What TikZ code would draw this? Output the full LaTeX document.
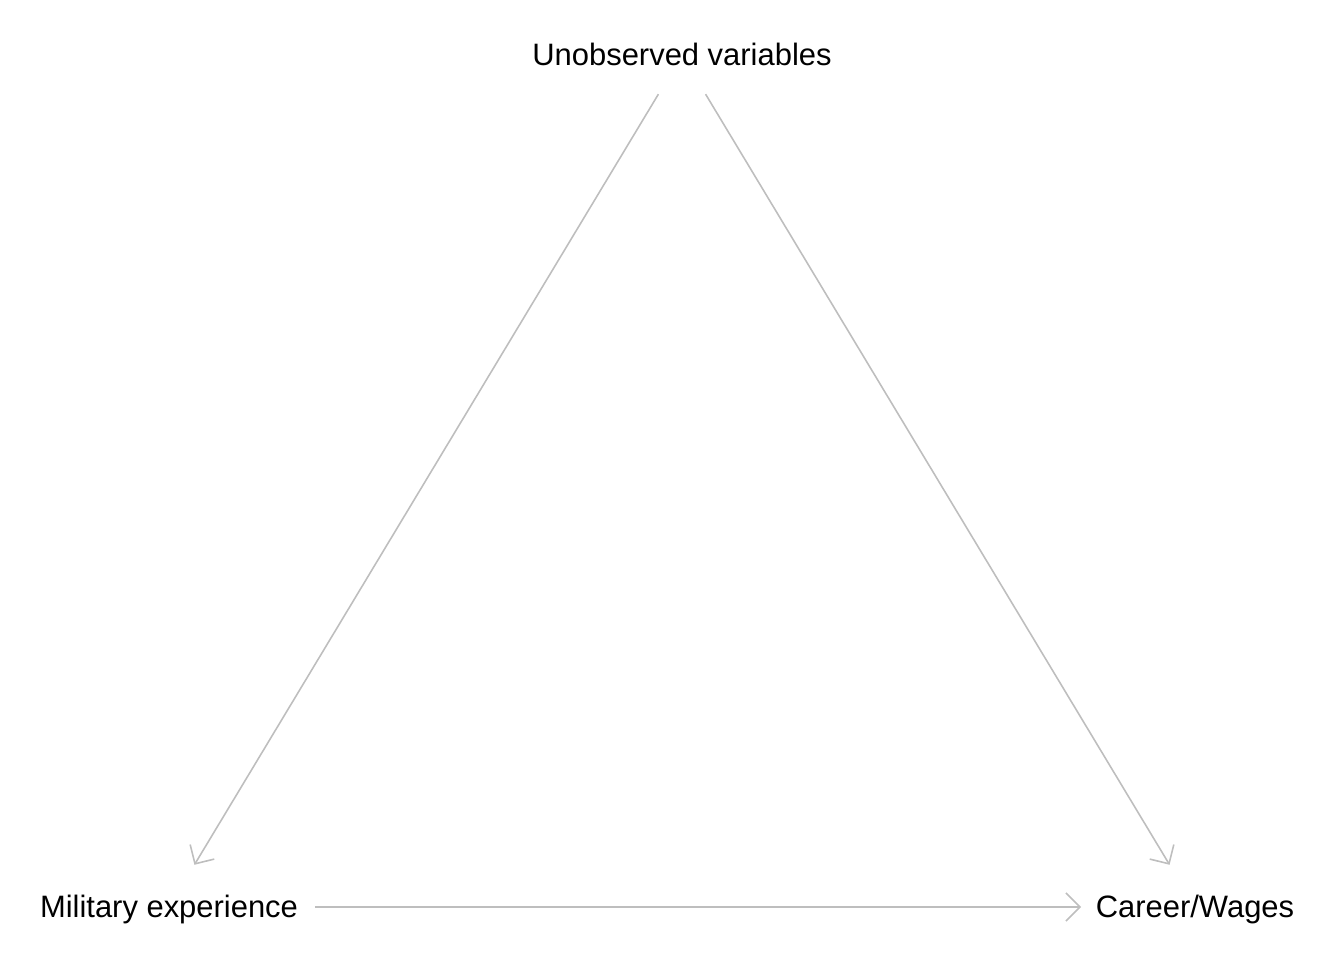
\documentclass[tikz,border=0pt]{standalone}
\usepackage{fontspec}
\setmainfont{Liberation Sans}
\usetikzlibrary{arrows.meta}
\definecolor{edgeGray}{HTML}{BEBEBE}
\begin{document}
\begin{tikzpicture}
[x=0.01cm,y=0.01cm,%
  lineDecorate/.style={-{Straight Barb[length=4pt,width=8pt]},draw=edgeGray,line width=0.45pt},%
  nodeDecorate/.style={inner sep=0pt,font=\fontsize{8.8pt}{10pt}\selectfont,text height=0.8em,text depth=0.2em}]
\useasboundingbox (0,0) rectangle (1344,960);
%% nodes or vertices
\foreach \nodename/\x/\y/\nodetext in {
  unobs/682/905/{Unobserved variables}, milit/169/53/{Military experience},
  career/1195/53/{Career/Wages}}
{
  \node (\nodename) at (\x,\y) [nodeDecorate] {\nodetext};
}
%% edges or lines
\path
\foreach \startnode/\endnode/\sa/\sb in {
  unobs.center/milit.center/13pt/14pt, unobs.center/career.center/13pt/14pt,
  milit.east/career.west/4.6pt/4pt}
{
  (\startnode) edge[lineDecorate,shorten <=\sa,shorten >=\sb] (\endnode)
};
\end{tikzpicture}
\end{document}
